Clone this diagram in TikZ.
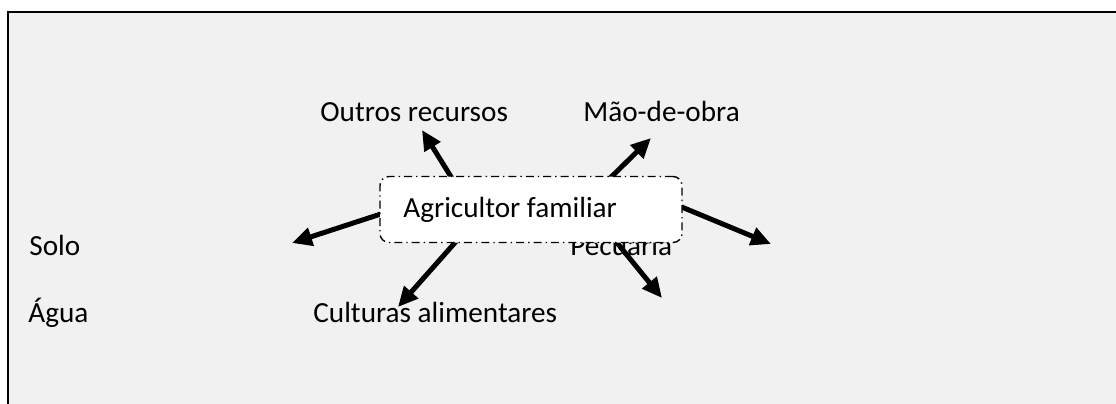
\documentclass[tikz,border=0pt]{standalone}
\usepackage{fontspec}
\setmainfont{Carlito}
\usetikzlibrary{arrows.meta}
\definecolor{panel}{HTML}{F1F1F1}
\tikzset{
  lbl/.style={anchor=base west, inner sep=0pt, font=\fontsize{14.6}{17}\selectfont},
  arr/.style={line width=2.5pt, -{Triangle[length=10pt,width=9pt]}},
  famBox/.style={draw, fill=white, rounded corners=4.5pt, line width=0.7pt,
    dash pattern=on 4pt off 2pt on 0.7pt off 2pt,
    minimum width=151pt, minimum height=33pt, inner sep=0pt}
}
\begin{document}
\begin{tikzpicture}[x=0.5pt,y=-0.5pt]
\useasboundingbox (0,0) rectangle (1116,403);
\fill[white] (0,0) rectangle (1116,403);
\fill[panel] (8,12) rectangle (1120,410);
\draw[line width=1.1pt] (8,410) -- (8,12) -- (1120,12);

% labels
\node[lbl] (outros) at (320,121) {Outros recursos};
\node[lbl] (mao) at (583,121) {Mão-de-obra};
\node[lbl] (solo) at (29,255) {Solo};
\node[lbl] (agua) at (28,322) {Água};
\node[lbl] (culturas) at (313,322) {Culturas alimentares};
\node[lbl] (pecuaria) at (570,255) {Pecuária};

% arrow ends
\coordinate (s1) at (458,188); \coordinate (t1) at (422,130);
\coordinate (s2) at (601,187); \coordinate (t2) at (651,138);
\coordinate (s3) at (390,211); \coordinate (t3) at (292,243);
\coordinate (s4) at (672,203); \coordinate (t4) at (771,244);
\coordinate (s5) at (460,237); \coordinate (t5) at (398,307);
\coordinate (s6) at (609,233); \coordinate (t6) at (662,298);

\draw[arr] (s1) -- (t1);
\draw[arr] (s2) -- (t2);
\draw[arr] (s3) -- (t3);
\draw[arr] (s4) -- (t4);
\draw[arr] (s5) -- (t5);
\draw[arr] (s6) -- (t6);

% central box
\node[famBox] (fam) at (531,209.5) {};
\node[lbl] (famtext) at (403,217) {Agricultor familiar};
\end{tikzpicture}
\end{document}
